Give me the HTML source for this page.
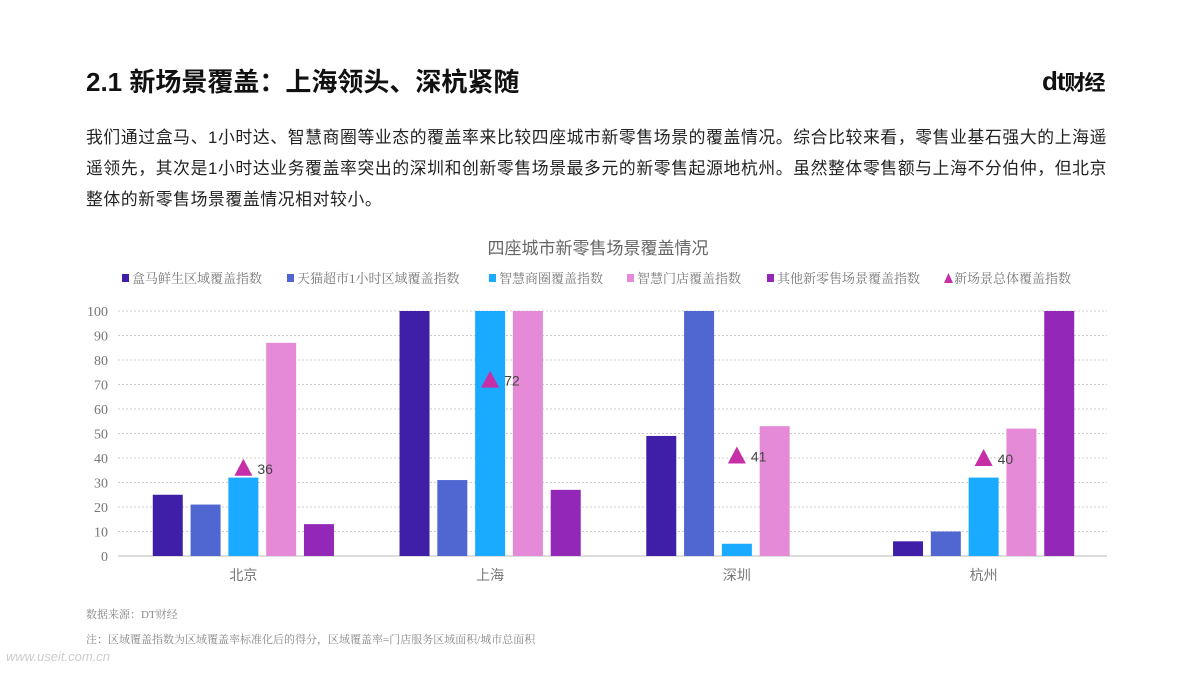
<!DOCTYPE html>
<html><head><meta charset="utf-8"><style>
body{margin:0;width:1200px;height:675px;background:#fff;font-family:"Liberation Sans","Noto Sans CJK SC",sans-serif;position:relative;overflow:hidden}
.t{position:absolute}
</style></head><body>
<div class="t" style="left:86px;top:62px;font-size:26px;font-weight:bold;color:#111">2.1 新场景覆盖：上海领头、深杭紧随</div>
<div class="t" style="left:1042px;top:66px;font-size:26px;font-weight:bold;color:#111;letter-spacing:-1px">dt<span style="font-size:21px">财经</span></div>
<div class="t" style="left:86px;top:122px;width:1100px;font-size:16.8px;letter-spacing:0.65px;line-height:31px;color:#222;white-space:nowrap">我们通过盒马、1小时达、智慧商圈等业态的覆盖率来比较四座城市新零售场景的覆盖情况。综合比较来看，零售业基石强大的上海遥<br>遥领先，其次是1小时达业务覆盖率突出的深圳和创新零售场景最多元的新零售起源地杭州。虽然整体零售额与上海不分伯仲，但北京<br>整体的新零售场景覆盖情况相对较小。</div>
<svg class="t" style="left:0;top:0" width="1200" height="675">
<text x="598" y="254" text-anchor="middle" font-size="17" fill="#666">四座城市新零售场景覆盖情况</text>
<g id="legend"></g><g id="grid"></g><g id="bars"></g>
<text x="86" y="618" font-size="11" fill="#888" font-family="Liberation Serif,Noto Serif CJK SC,serif">数据来源：DT财经</text>
<text x="86" y="643" font-size="11" fill="#888" font-family="Liberation Serif,Noto Serif CJK SC,serif">注：区域覆盖指数为区域覆盖率标准化后的得分，区域覆盖率=门店服务区域面积/城市总面积</text>
<text x="6" y="661" font-size="13" fill="#ccc" font-style="italic">www.useit.com.cn</text>
</svg>
<script>
const categories=["北京","上海","深圳","杭州"];
const seriesNames=["盒马鲜生区域覆盖指数","天猫超市1小时区域覆盖指数","智慧商圈覆盖指数","智慧门店覆盖指数","其他新零售场景覆盖指数"];
const hema=[25,100,49,6];
const tmall=[21,31,100,10];
const district=[32,100,5,32];
const store=[87,100,53,52];
const other=[13,27,0,100];
const total=[36,72,41,40];
const yTicks=[0,10,20,30,40,50,60,70,80,90,100];
const series=[hema,tmall,district,store,other];
const colors=["#3f1fa8","#5066d0","#1aaaff","#e58ad6","#9327b8"];
const NS="http://www.w3.org/2000/svg";
const x0=120,x1=1107,yb=556,yt=311;
const y=v=>yb-(v/100)*(yb-yt);
const gw=(x1-x0)/categories.length;
const cx=i=>x0+gw*(i+0.5);
const serif="Liberation Serif,Noto Serif CJK SC,serif";
function mk(t,a,p){const e=document.createElementNS(NS,t);for(const k in a)e.setAttribute(k,a[k]);p.appendChild(e);return e;}
const grid=document.getElementById('grid');
yTicks.forEach(v=>{
 const l=mk('line',{x1:x0-2,x2:x1,y1:y(v),y2:y(v),stroke:v?'#ccc':'#bbb','stroke-dasharray':v?'2,2':''},grid);
 
 
 const t=mk('text',{x:108,y:y(v)+5,'text-anchor':'end','font-size':14,fill:'#777','font-family':serif},grid);t.textContent=v;
 
 
});
const bars=document.getElementById('bars');
categories.forEach((c,i)=>{
 const t=mk('text',{x:cx(i),y:580,'text-anchor':'middle','font-size':14,fill:'#777'},bars);t.textContent=c;
 
 
 series.forEach((s,j)=>{
  const bx=cx(i)+(j-2)*37.8-15;
  const r=mk('rect',{x:bx,y:y(s[i]),width:30,height:yb-y(s[i]),fill:colors[j]},bars);
  
  
 });
 const ty=y(total[i]),tx=cx(i);
 const p=mk('polygon',{points:`${tx-9},${ty+8} ${tx+9},${ty+8} ${tx},${ty-9}`,fill:'#c72fa8'},bars);
 
 
 const lt=mk('text',{x:tx+14,y:ty+6,'font-size':14,fill:'#444'},bars);lt.textContent=total[i];
 
 
});
const lg=document.getElementById('legend');
const lx=[122,287,489,627,767,944];
seriesNames.concat(["新场景总体覆盖指数"]).forEach((n,j)=>{
 const g=mk('g',{},lg);
 
 
 if(j<5)mk('rect',{x:lx[j],y:274,width:7,height:8,fill:colors[j]},g);
 else mk('polygon',{points:`${lx[j]},283 ${lx[j]+9},283 ${lx[j]+4.5},273`,fill:'#c72fa8'},g);
 const t=mk('text',{x:lx[j]+10,y:283,'font-size':13,fill:'#777','font-family':serif},g);t.textContent=n;
});
</script>
</body></html>
